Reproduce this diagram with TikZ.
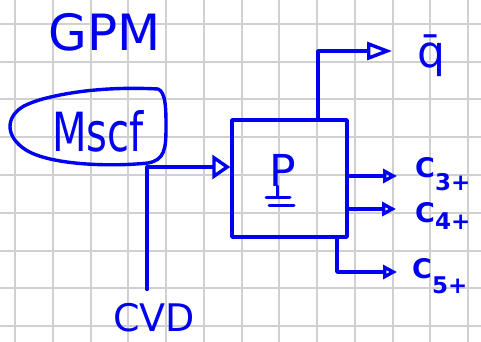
\documentclass[tikz,border=0pt]{standalone}
\usepackage{fontspec}
\setmainfont{DejaVu Sans}
\usetikzlibrary{arrows.meta}
\definecolor{ink}{RGB}{0,0,240}
\definecolor{gridc}{RGB}{208,208,208}
\begin{document}
\begin{tikzpicture}[x=1pt,y=-1pt,
  inkline/.style={draw=ink, line width=3.4pt, line cap=round, line join=round},
  lbl/.style={text=ink, inner sep=0pt},
  smalltip/.style={-{Triangle[open,length=14pt,width=14pt]}},
  bigtip/.style={-{Triangle[open,length=18pt,width=24pt]}},
  longtip/.style={-{Triangle[open,length=25pt,width=18pt]}},
  clabel/.style={lbl, anchor=base west, font=\fontsize{27}{27}\selectfont},
]
\useasboundingbox (0,0) rectangle (481,342);
\fill[white] (0,0) rectangle (481,342);
% grid
\foreach \i in {0,...,12} \draw[gridc, line width=2pt] (15+37.75*\i,0) -- (15+37.75*\i,342);
\foreach \j in {0,...,8} \draw[gridc, line width=2pt] (0,24+37.75*\j) -- (481,24+37.75*\j);

% title
\node[lbl, font=\fontsize{50}{50}\selectfont] (gpm) at (105,32) {GPM};

% source blob with text
\node[lbl, font=\fontsize{40}{40}\selectfont] (src) at (98,131) {\scalebox{1}[1.35]{Mscf}};
\draw[inkline] (60,95) .. controls (100,87) and (140,88) .. (158,89)
  .. controls (166,92) and (166,110) .. (166,128)
  .. controls (166,150) and (164,160) .. (148,163)
  .. controls (110,167) and (50,165) .. (26,150)
  .. controls (4,136) and (6,116) .. (24,106)
  .. controls (34,101) and (45,98) .. (60,95) -- cycle;

% process box
\node[inkline, minimum width=115pt, minimum height=117pt, inner sep=0pt] (proc) at (289.5,178.5) {};
\node[lbl, font=\fontsize{44}{44}\selectfont] (p) at (283,170) {P};
\draw[inkline, line width=3pt] ([xshift=-6pt]p.south) -- ++(0,10);
\draw[inkline, line width=3pt] (266,197) -- (290,197);
\draw[inkline, line width=3pt] (269,205) -- (294,205);

% CVD
\node[lbl, font=\fontsize{38}{38}\selectfont] (cvd) at (154,318) {CVD};

% output labels
\node[lbl, anchor=base, font=\fontsize{44}{44}\selectfont] (qb) at (431,68) {\={q}};
\node[clabel] (c3) at (415,177) {\bfseries C\raisebox{-13pt}{\fontsize{23}{23}\selectfont 3+}};
\node[clabel] (c4) at (415,222) {\bfseries C\raisebox{-7pt}{\fontsize{23}{23}\selectfont 4+}};
\node[clabel] (c5) at (412,278) {\bfseries C\raisebox{-15pt}{\fontsize{23}{23}\selectfont 5+}};

% coordinates
\coordinate (jn) at (147,167);
\coordinate (tx) at (318,0);
\coordinate (tq) at (392,51);
\coordinate (b5) at (337,0);
\coordinate (t3) at (397,176);
\coordinate (t4) at (396,209);
\coordinate (t5) at (397,272);

% connectors
\draw[inkline, bigtip] (jn) -- (jn -| proc.west);
\draw[inkline, shorten >=14pt] (jn) -- (cvd.north -| jn);
\draw[inkline, longtip] (proc.north -| tx) |- (tq);
\draw[inkline, smalltip] (proc.east |- t3) -- (t3);
\draw[inkline, smalltip] (proc.east |- t4) -- (t4);
\draw[inkline, smalltip] (proc.south -| b5) |- (t5);
\end{tikzpicture}
\end{document}
